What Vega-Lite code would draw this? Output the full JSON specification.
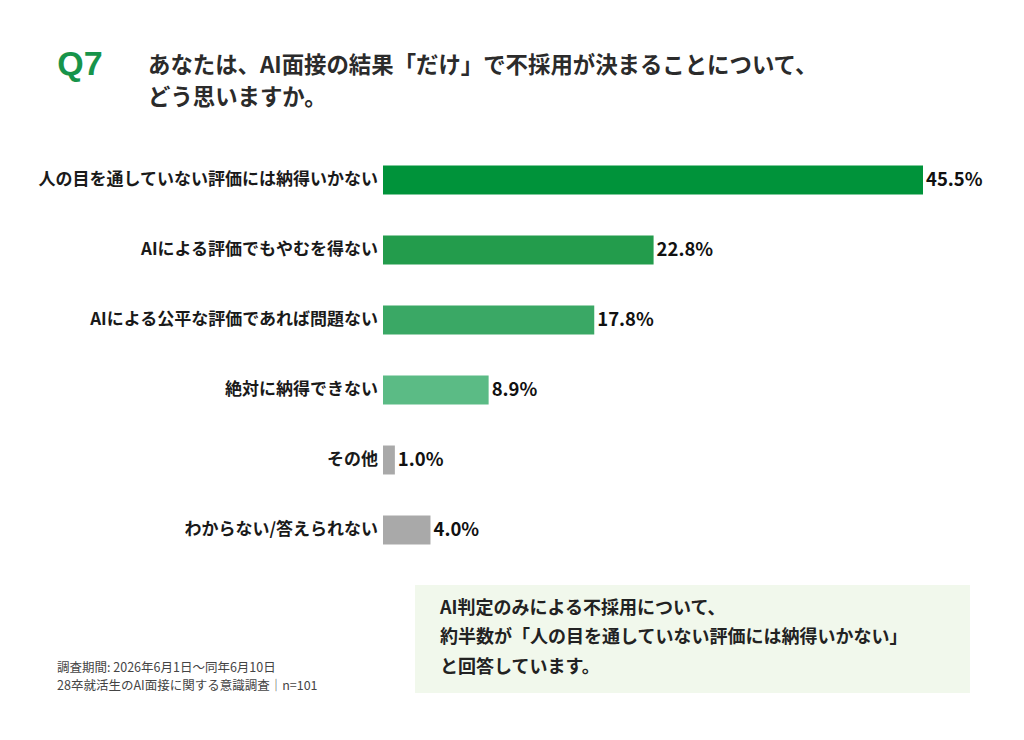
{
  "$schema": "https://vega.github.io/schema/vega-lite/v6.json",
  "background": "white",
  "padding": {"left": 38, "top": 7, "right": 20, "bottom": 10},
  "config": {"view": {"stroke": null}, "font": "Noto Sans CJK JP"},
  "spacing": 20,
  "datasets": {
    "answers": [
      {"answer": "人の目を通していない評価には納得いかない", "pct": 45.5, "pct_text": "45.5%"},
      {"answer": "AIによる評価でもやむを得ない", "pct": 22.8, "pct_text": "22.8%"},
      {"answer": "AIによる公平な評価であれば問題ない", "pct": 17.8, "pct_text": "17.8%"},
      {"answer": "絶対に納得できない", "pct": 8.9, "pct_text": "8.9%"},
      {"answer": "その他", "pct": 1.0, "pct_text": "1.0%"},
      {"answer": "わからない/答えられない", "pct": 4.0, "pct_text": "4.0%"}
    ]
  },
  "vconcat": [
    {
      "spacing": 26,
      "hconcat": [
        {
          "width": 84,
          "height": 116,
          "data": {"values": [{"q": "Q7"}]},
          "mark": {"type": "text", "font": "Liberation Sans", "fontSize": 34, "fontWeight": "bold", "color": "#17944a", "align": "center", "baseline": "middle"},
          "encoding": {"text": {"field": "q"}}
        },
        {
          "width": 10,
          "height": 118,
          "data": {"values": [{"question": "あなたは、AI面接の結果「だけ」で不採用が決まることについて、\nどう思いますか。"}]},
          "mark": {"type": "text", "fontSize": 22.4, "fontWeight": "bold", "color": "#2b2b2b", "align": "left", "baseline": "middle", "lineBreak": "\n", "lineHeight": 32},
          "encoding": {
            "x": {"datum": 0, "type": "quantitative", "scale": {"domain": [0, 1]}, "axis": null},
            "text": {"field": "question"}
          }
        }
      ]
    },
    {
      "spacing": 5,
      "hconcat": [
        {
          "width": 340,
          "height": 420,
          "data": {"name": "answers"},
          "mark": {"type": "text", "align": "right", "baseline": "middle", "fontSize": 17, "fontWeight": "bold", "color": "#1a1a1a"},
          "encoding": {
            "y": {"field": "answer", "type": "nominal", "sort": null, "axis": null, "scale": {"type": "band", "paddingInner": 0.586, "paddingOuter": 0.293}},
            "x": {"datum": 1, "type": "quantitative", "scale": {"domain": [0, 1]}, "axis": null},
            "text": {"field": "answer"}
          }
        },
        {
          "width": 540,
          "height": 420,
          "data": {"name": "answers"},
          "encoding": {
            "y": {"field": "answer", "type": "nominal", "sort": null, "axis": null, "scale": {"type": "band", "paddingInner": 0.586, "paddingOuter": 0.293}},
            "x": {"field": "pct", "type": "quantitative", "scale": {"domain": [0, 45.5], "nice": false}, "axis": null}
          },
          "layer": [
            {
              "mark": {"type": "bar"},
              "encoding": {
                "color": {
                  "field": "answer", "type": "nominal", "sort": null, "legend": null,
                  "scale": {
                    "domain": ["人の目を通していない評価には納得いかない", "AIによる評価でもやむを得ない", "AIによる公平な評価であれば問題ない", "絶対に納得できない", "その他", "わからない/答えられない"],
                    "range": ["#00933a", "#239c4c", "#3aa865", "#5bbb85", "#a9a9a9", "#a9a9a9"]
                  }
                }
              }
            },
            {
              "mark": {"type": "text", "align": "left", "baseline": "middle", "dx": 3, "fontSize": 18.5, "fontWeight": "bold", "color": "#111111"},
              "encoding": {"text": {"field": "pct_text"}}
            }
          ]
        }
      ]
    },
    {
      "spacing": 37,
      "hconcat": [
        {
          "width": 340,
          "height": 108,
          "data": {"values": [{"note": "調査期間: 2026年6月1日～同年6月10日\n28卒就活生のAI面接に関する意識調査｜n=101"}]},
          "mark": {"type": "text", "align": "left", "baseline": "bottom", "fontSize": 12.5, "color": "#444444", "lineBreak": "\n", "lineHeight": 18, "dx": 19, "dy": -18},
          "encoding": {
            "x": {"datum": 0, "type": "quantitative", "scale": {"domain": [0, 1]}, "axis": null},
            "y": {"datum": 0, "type": "quantitative", "scale": {"domain": [0, 1]}, "axis": null},
            "text": {"field": "note"}
          }
        },
        {
          "width": 555,
          "height": 108,
          "view": {"fill": "#f1f8ec", "stroke": null},
          "data": {"values": [{"msg": "AI判定のみによる不採用について、\n約半数が「人の目を通していない評価には納得いかない」\nと回答しています。"}]},
          "mark": {"type": "text", "align": "left", "baseline": "middle", "fontSize": 18, "fontWeight": "bold", "color": "#222222", "lineBreak": "\n", "lineHeight": 29.5, "dx": 25, "dy": -30.5},
          "encoding": {
            "x": {"datum": 0, "type": "quantitative", "scale": {"domain": [0, 1]}, "axis": null},
            "text": {"field": "msg"}
          }
        }
      ]
    }
  ]
}
